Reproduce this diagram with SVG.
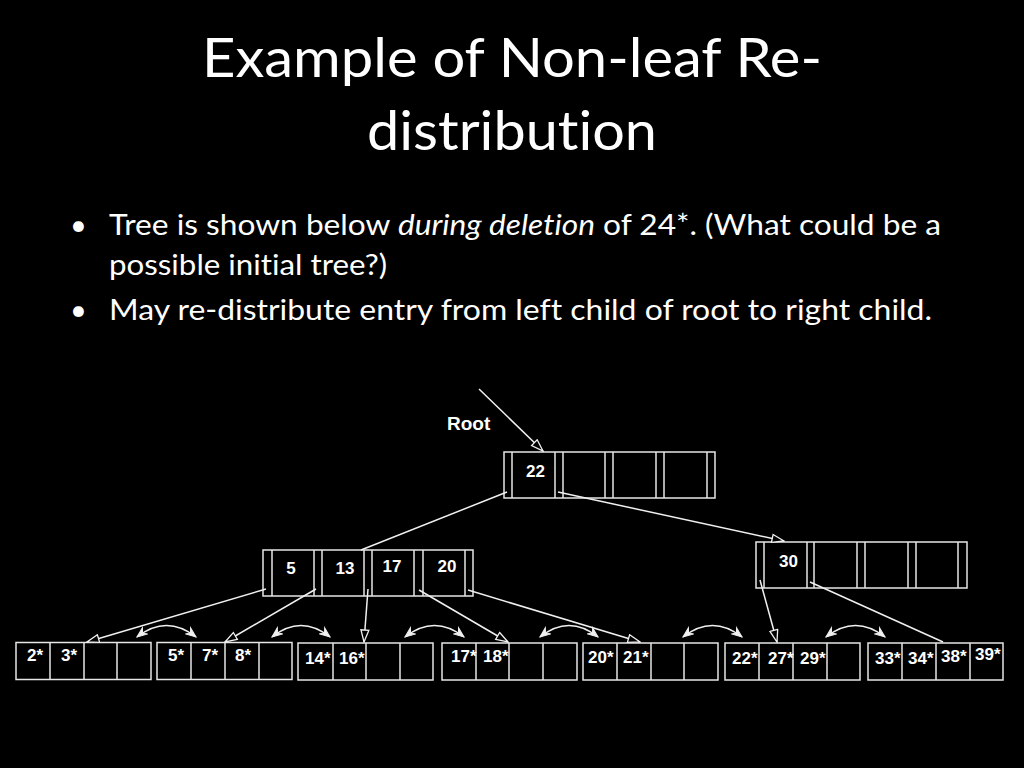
<svg xmlns="http://www.w3.org/2000/svg" width="1024" height="768" viewBox="0 0 1024 768">
<style>
.title{font-family:Lato,"Open Sans","Liberation Sans",sans-serif;font-size:54px;fill:#fff;text-anchor:middle;font-variant-ligatures:none}
.bul{font-family:Lato,"Open Sans","Liberation Sans",sans-serif;font-size:29px;fill:#fff;font-variant-ligatures:none}
.box{fill:#000;stroke:#e6e6e6;stroke-width:1.5}
.div{stroke:#e6e6e6;stroke-width:1.5}
.k{font-family:"Liberation Sans",Arial,sans-serif;font-weight:bold;font-size:17px;fill:#fff}
.kc{font-family:"Liberation Sans",Arial,sans-serif;font-weight:bold;font-size:17px;fill:#fff;text-anchor:middle}
.ln{stroke:#f0f0f0;stroke-width:1.5;fill:none}
</style>
<defs>
<marker id="ah" markerUnits="userSpaceOnUse" markerWidth="14" markerHeight="10" viewBox="0 0 14 10" refX="13" refY="5" orient="auto">
<path d="M1,1 L13,5 L1,9 Z" fill="#000" stroke="#f0f0f0" stroke-width="1.3"/>
</marker>
<marker id="ch" markerUnits="userSpaceOnUse" markerWidth="12" markerHeight="10" viewBox="0 0 12 10" refX="11" refY="5" orient="auto-start-reverse">
<path d="M1,1 L11,5 L1,9 L4,5 Z" fill="#f0f0f0" stroke="#f0f0f0" stroke-width="1"/>
</marker>
</defs>
<rect width="1024" height="768" fill="#000"/>

<g id="title">
<text class="title" x="512" y="77" textLength="620" lengthAdjust="spacingAndGlyphs">Example of Non-leaf Re-</text>
<text class="title" x="512" y="150" textLength="290" lengthAdjust="spacingAndGlyphs">distribution</text>
</g>

<g id="bullets">
<text class="bul" x="70" y="235">•</text>
<text class="bul" x="109" y="235" textLength="832" lengthAdjust="spacingAndGlyphs">Tree is shown below <tspan font-style="italic">during deletion</tspan> of 24*. (What could be a</text>
<text class="bul" x="109" y="275" textLength="278" lengthAdjust="spacingAndGlyphs">possible initial tree?)</text>
<text class="bul" x="70" y="320">•</text>
<text class="bul" x="109" y="320" textLength="823" lengthAdjust="spacingAndGlyphs">May re-distribute entry from left child of root to right child.</text>
</g>

<g id="root-label">
<text x="447" y="430" font-family="Liberation Sans, Arial, sans-serif" font-weight="bold" font-size="19" fill="#fff">Root</text>
</g>

<g id="node-root">
<rect class="box" x="504" y="452" width="211" height="46"/>
<path class="div" d="M512,452V498M555,452V498M563,452V498M605,452V498M613,452V498M656,452V498M664,452V498M707,452V498"/>
<text class="kc" x="535.5" y="477">22</text>
</g>

<g id="node-left">
<rect class="box" x="263" y="550" width="210" height="46"/>
<path class="div" d="M272,550V596M314,550V596M322,550V596M364,550V596M372,550V596M414,550V596M423,550V596M465,550V596"/>
<text class="kc" x="291" y="574">5</text>
<text class="kc" x="345" y="574">13</text>
<text class="kc" x="392" y="572">17</text>
<text class="kc" x="447" y="572">20</text>
</g>

<g id="node-right">
<rect class="box" x="756" y="542" width="211" height="46"/>
<path class="div" d="M764,542V588M807,542V588M814,542V588M857,542V588M865,542V588M908,542V588M916,542V588M958,542V588"/>
<text class="kc" x="788.5" y="567">30</text>
</g>

<g id="leaf1">
<rect class="box" x="16" y="642.5" width="135" height="37"/>
<path class="div" d="M50,642.5V679.5M84,642.5V679.5M117,642.5V679.5"/>
<text class="k" x="27" y="661">2*</text>
<text class="k" x="61" y="661">3*</text>
</g>
<g id="leaf2">
<rect class="box" x="157" y="642.5" width="135" height="37"/>
<path class="div" d="M191,642.5V679.5M225,642.5V679.5M259,642.5V679.5"/>
<text class="k" x="168" y="661">5*</text>
<text class="k" x="202" y="661">7*</text>
<text class="k" x="235" y="661">8*</text>
</g>
<g id="leaf3">
<rect class="box" x="298" y="643" width="135" height="37"/>
<path class="div" d="M333,643V680M366,643V680M400,643V680"/>
<text class="k" x="305" y="664">14*</text>
<text class="k" x="339" y="664">16*</text>
</g>
<g id="leaf4">
<rect class="box" x="442" y="643" width="135" height="37"/>
<path class="div" d="M476,643V680M509,643V680M543,643V680"/>
<text class="k" x="451" y="662">17*</text>
<text class="k" x="483" y="662">18*</text>
</g>
<g id="leaf5">
<rect class="box" x="583" y="643" width="135" height="37"/>
<path class="div" d="M617,643V680M651,643V680M684,643V680"/>
<text class="k" x="588" y="663">20*</text>
<text class="k" x="623" y="663">21*</text>
</g>
<g id="leaf6">
<rect class="box" x="725" y="643" width="135" height="37"/>
<path class="div" d="M759,643V680M793,643V680M827,643V680"/>
<text class="k" x="732" y="664">22*</text>
<text class="k" x="768" y="664">27*</text>
<text class="k" x="800" y="664">29*</text>
</g>
<g id="leaf7">
<rect class="box" x="868" y="643" width="135" height="37"/>
<path class="div" d="M902,643V680M936,643V680M970,643V680"/>
<text class="k" x="875" y="664">33*</text>
<text class="k" x="908" y="664">34*</text>
<text class="k" x="941" y="662">38*</text>
<text class="k" x="975" y="660">39*</text>
</g>

<g id="connectors">
<line class="ln" x1="479" y1="389" x2="543" y2="451" marker-end="url(#ah)"/>
<line class="ln" x1="507" y1="492" x2="361" y2="550"/>
<line class="ln" x1="558" y1="492" x2="784" y2="541" marker-end="url(#ah)"/>
<line class="ln" x1="266" y1="589" x2="87" y2="642" marker-end="url(#ah)"/>
<line class="ln" x1="316" y1="589" x2="225" y2="642" marker-end="url(#ah)"/>
<line class="ln" x1="368" y1="589" x2="364" y2="642" marker-end="url(#ah)"/>
<line class="ln" x1="419" y1="590" x2="508" y2="642" marker-end="url(#ah)"/>
<line class="ln" x1="468" y1="590" x2="640" y2="642" marker-end="url(#ah)"/>
<line class="ln" x1="760" y1="580" x2="777" y2="642" marker-end="url(#ah)"/>
<line class="ln" x1="810" y1="582" x2="943" y2="642"/>
<path class="ln" d="M137,637 Q166.5,614 196,637" marker-start="url(#ch)" marker-end="url(#ch)"/>
<path class="ln" d="M272,637 Q301,614 330,637" marker-start="url(#ch)" marker-end="url(#ch)"/>
<path class="ln" d="M405,637 Q434.5,614 464,637" marker-start="url(#ch)" marker-end="url(#ch)"/>
<path class="ln" d="M540,637 Q569,614 598,637" marker-start="url(#ch)" marker-end="url(#ch)"/>
<path class="ln" d="M683,637 Q712.5,614 742,637" marker-start="url(#ch)" marker-end="url(#ch)"/>
<path class="ln" d="M826,637 Q855.5,614 885,637" marker-start="url(#ch)" marker-end="url(#ch)"/>
</g>
</svg>
